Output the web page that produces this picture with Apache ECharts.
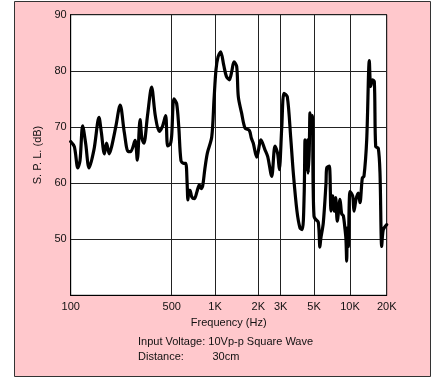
<!DOCTYPE html>
<html><head><meta charset="utf-8">
<script src="https://cdn.jsdelivr.net/npm/echarts@6/dist/echarts.min.js"></script>
<style>html,body{margin:0;padding:0;background:#fff}#c{width:433px;height:385px}</style>
</head><body><div id="c"></div>
<script>
// Frequency-axis tick values (Hz) and their labels
const xTickFreqs = [100, 500, 1000, 2000, 3000, 5000, 10000, 20000];
const xTickLabels = ['100', '500', '1K', '2K', '3K', '5K', '10K', '20K'];
// Y ticks
const yTicks = [50, 60, 70, 80, 90];

// Measured response: frequency (Hz) and S.P.L. (dB)
const freqHz = [100,106,112,116,121,127,134,145,157,163,171,177,185,192,205,220,235,250,260,279,289,302,311,321,340,363,385,410,430,454,469,490,500,518,541,560,580,605,626,640,648,660,670,690,718,750,778,800,821,850,884,949,985,1016,1050,1095,1150,1200,1257,1310,1355,1415,1452,1530,1617,1731,1790,1846,1949,2100,2250,2372,2549,2706,2842,2925,3050,3155,3319,3500,3640,3850,4034,4180,4300,4356,4400,4440,4471,4520,4582,4650,4703,4760,4872,4930,5000,5127,5430,5600,5690,5980,6300,6387,6713,6936,7166,7390,7590,7830,8247,8522,8790,9082,9250,9382,9500,9677,10000,10520,10785,11200,11700,12080,12620,13020,13710,14400,14780,15240,15830,16250,17060,17620,18200,18750,20000];
const splDb = [67.4,66.5,62.7,64.0,70.2,67.0,62.7,66.0,71.7,69.0,65.2,67.1,65.2,66.5,70.0,73.9,69.0,65.6,65.6,67.6,64.1,71.3,68.0,67.1,72.0,77.1,72.0,69.2,70.0,72.0,66.6,67.0,68.5,75.0,74.2,70.0,64.0,63.5,63.5,60.0,57.0,58.7,58.7,57.5,57.2,58.5,59.7,59.0,59.5,62.5,65.3,68.2,75.0,80.2,82.5,83.4,81.0,79.0,78.4,80.0,81.6,80.8,75.4,72.5,69.8,69.4,68.0,67.1,64.6,67.7,66.0,64.7,61.2,66.6,65.2,62.4,70.0,76.0,75.4,68.0,61.8,55.0,52.0,51.7,58.0,67.7,63.0,66.5,62.4,67.7,61.8,66.0,72.5,70.0,72.0,60.0,54.1,53.6,53.0,48.6,50.0,52.9,60.0,62.7,63.0,55.0,57.7,55.0,57.4,53.2,57.1,54.5,54.2,51.8,50.0,46.1,52.0,48.7,58.5,57.7,55.0,57.1,58.2,56.5,60.9,61.2,67.7,81.8,77.2,78.4,78.1,66.5,66.2,61.8,48.7,51.7,52.6];

// Chart's drawn (non-uniform) frequency scale: position of each tick along the axis
const xTickPos = [0, 101, 144.3, 187.6, 210, 243.3, 279.3, 316];

function xPos(f) {
  for (let i = 0; i < xTickFreqs.length - 1; i++) {
    const a = xTickFreqs[i], b = xTickFreqs[i + 1];
    if (f <= b || i === xTickFreqs.length - 2) {
      const t = Math.log(f / a) / Math.log(b / a);
      return xTickPos[i] + t * (xTickPos[i + 1] - xTickPos[i]);
    }
  }
}

const chart = echarts.init(document.getElementById('c'), null, {renderer: 'canvas'});
const font = 'Liberation Sans, Arial, sans-serif';
chart.setOption({
  animation: false,
  backgroundColor: '#fff',
  graphic: [
    {type: 'rect', z: -10, shape: {x: 14.5, y: 1.5, width: 416, height: 375}, style: {fill: '#FFC8CC', stroke: '#333', lineWidth: 1}},
    {type: 'text', left: 138, top: 336, style: {text: 'Input Voltage: 10Vp-p Square Wave', font: '11px ' + font, fill: '#111'}},
    {type: 'text', left: 138, top: 351.5, style: {text: 'Distance:', font: '11px ' + font, fill: '#111'}},
    {type: 'text', left: 212.5, top: 351.5, style: {text: '30cm', font: '11px ' + font, fill: '#111'}}
  ],
  grid: {left: 70.7, top: 14.7, right: 46.3, bottom: 89.7, show: true, backgroundColor: '#fff', borderColor: '#000', borderWidth: 1},
  xAxis: {
    type: 'value', min: 0, max: xTickPos[xTickPos.length - 1],
    name: 'Frequency (Hz)', nameLocation: 'middle', nameGap: 22,
    nameTextStyle: {fontFamily: font, fontSize: 11, color: '#111'},
    axisLine: {lineStyle: {color: '#000', width: 1}},
    axisTick: {show: false, customValues: xTickPos},
    axisLabel: {customValues: xTickPos, margin: 6, fontFamily: font, fontSize: 11, color: '#111',
      formatter: v => { const i = xTickPos.findIndex(p => Math.abs(p - v) < 0.01); return i >= 0 ? xTickLabels[i] : ''; }},
    splitLine: {show: true, lineStyle: {color: '#222', width: 1}}
  },
  yAxis: {
    type: 'value', min: 40, max: 90, interval: 10,
    name: 'S. P. L. (dB)', nameLocation: 'middle', nameGap: 25, nameRotate: 90,
    nameTextStyle: {fontFamily: font, fontSize: 11, color: '#111'},
    axisLine: {show: true, lineStyle: {color: '#000', width: 1}},
    axisTick: {show: false},
    axisLabel: {margin: 4, fontFamily: font, fontSize: 11, color: '#111', formatter: v => yTicks.includes(v) ? String(v) : ''},
    splitLine: {show: true, lineStyle: {color: '#222', width: 1}}
  },
  series: [{
    type: 'line', showSymbol: false, smooth: 0.3,
    data: freqHz.map((f, i) => [xPos(f), splDb[i]]),
    lineStyle: {color: '#000', width: 3.2, join: 'round', cap: 'round'},
    clip: true
  }]
});
</script></body></html>
